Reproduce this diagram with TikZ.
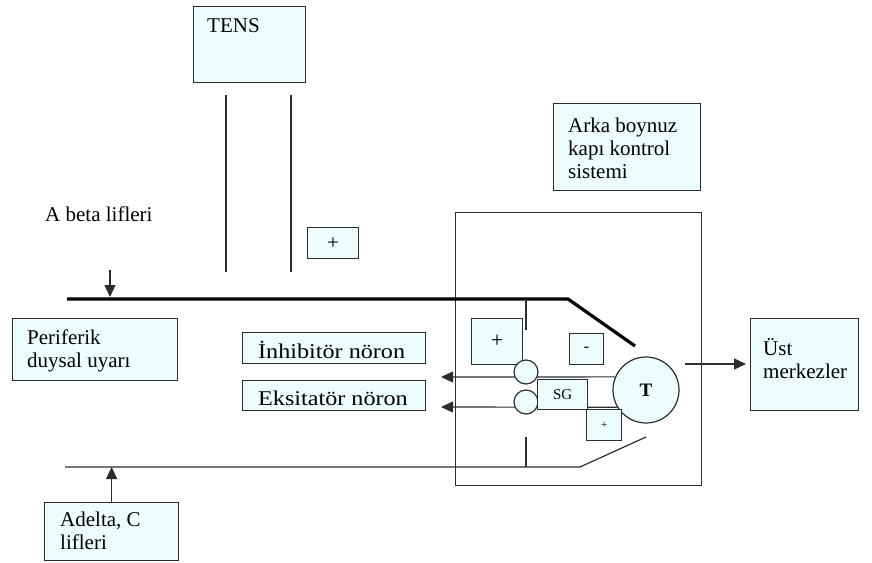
\documentclass[tikz,border=0pt]{standalone}
\usepackage{fontspec}
\setmainfont{Liberation Serif}
\newfontfamily\widefont[FakeStretch=1.15]{Liberation Serif}
\usetikzlibrary{arrows.meta}
\definecolor{boxfill}{RGB}{237,253,253}
\definecolor{ink}{RGB}{45,45,45}
\tikzset{
  box/.style={draw=ink, fill=boxfill, line width=1.2pt, inner sep=0pt, anchor=north west},
  txt/.style={inner sep=0pt, align=left, font=\fontsize{21}{23}\selectfont},
  wire/.style={draw=ink, line width=1.2pt},
  fibre/.style={draw=black, line width=3.2pt},
  tip/.style={-{Triangle[length=12pt,width=11pt]}},
  cell/.style={circle, draw=ink, fill=boxfill, line width=1.2pt, inner sep=0pt},
}
\begin{document}
\begin{tikzpicture}[x=1pt,y=-1pt]
\useasboundingbox (0,0) rectangle (872,562);

\node[box, minimum width=112, minimum height=76] (tens) at (193,6) {};
\node[txt, anchor=base west] (tensT) at (207,32) {TENS};
\node[box, minimum width=51, minimum height=31, font=\fontsize{21}{23}\selectfont] (plusA) at (307,227) {+};
\node[box, minimum width=147, minimum height=87] (arka) at (553,103) {};
\node[txt, anchor=north west] (arkaT) at (568,118) {Arka boynuz\\kapı kontrol\\sistemi};
\node[txt, anchor=base west] (abetaT) at (45,221) {A beta lifleri};
\node[box, minimum width=165, minimum height=62] (per) at (12,318) {};
\node[txt, anchor=north west] (perT) at (27,330) {Periferik\\duysal uyarı};
\node[box, minimum width=183, minimum height=31] (inh) at (242,332) {};
\node[txt, anchor=base west, font=\widefont\fontsize{21}{23}\selectfont] (inhT) at (258,358) {İnhibitör nöron};
\node[box, minimum width=183, minimum height=30] (eks) at (242,380) {};
\node[txt, anchor=base west, font=\widefont\fontsize{21}{23}\selectfont] (eksT) at (258,405) {Eksitatör nöron};
\node[box, minimum width=134, minimum height=58] (ad) at (44,502) {};
\node[txt, anchor=north west] (adT) at (60,512) {Adelta, C\\lifleri};
\node[box, minimum width=108, minimum height=92] (ust) at (750,318) {};
\node[txt, anchor=north west] (ustT) at (763,338) {Üst\\merkezler};

\node[draw=ink, line width=1.2pt, inner sep=0pt, anchor=north west, minimum width=246, minimum height=273] (gate) at (455,212) {};
\node[box, minimum width=51, minimum height=46, font=\fontsize{22}{24}\selectfont] (plusB) at (471,318) {+};
\node[box, minimum width=34, minimum height=31, font=\fontsize{16}{18}\selectfont] (minus) at (569,333) {-};
\node[cell, minimum size=66, font=\bfseries\fontsize{19}{21}\selectfont] (T) at (646,390) {T};

\draw[wire] (226,95) -- (226,272);
\draw[wire] (291,95) -- (291,272);
\draw[fibre] (67,299) coordinate (abStart) -- (568,299) -- (635,346);
\draw[wire] (65,467) coordinate (cStart) -- (580,467) -- (646,437);
\draw[wire] (526,299) -- (526,330);
\draw[wire] (526,437) -- (526,467);

\coordinate (abTop) at (110,270);
\draw[wire, tip, shorten >=2pt] (abTop) -- (abTop |- abStart);
\draw[wire, tip] (ad.north) -- (ad.north |- cStart);
\coordinate (inhOut) at (441,377);
\coordinate (eksOut) at (441,407);
\draw[wire, tip] (T.157) -- (inhOut);
\draw[wire, tip] (T.211) -- (eksOut);
\coordinate (tOut) at (685,364);
\draw[wire, tip, shorten >=4pt] (tOut) -- (ust.west |- tOut);

\node[cell, minimum size=24] (inhCell) at (526,372) {};
\node[cell, minimum size=24] (eksCell) at (526,402) {};
\node[box, minimum width=50, minimum height=30, font=\fontsize{15}{17}\selectfont] (sg) at (537,379) {SG};
\node[box, minimum width=35, minimum height=31, font=\fontsize{11}{13}\selectfont] (plusC) at (586,409) {+};
\end{tikzpicture}
\end{document}
